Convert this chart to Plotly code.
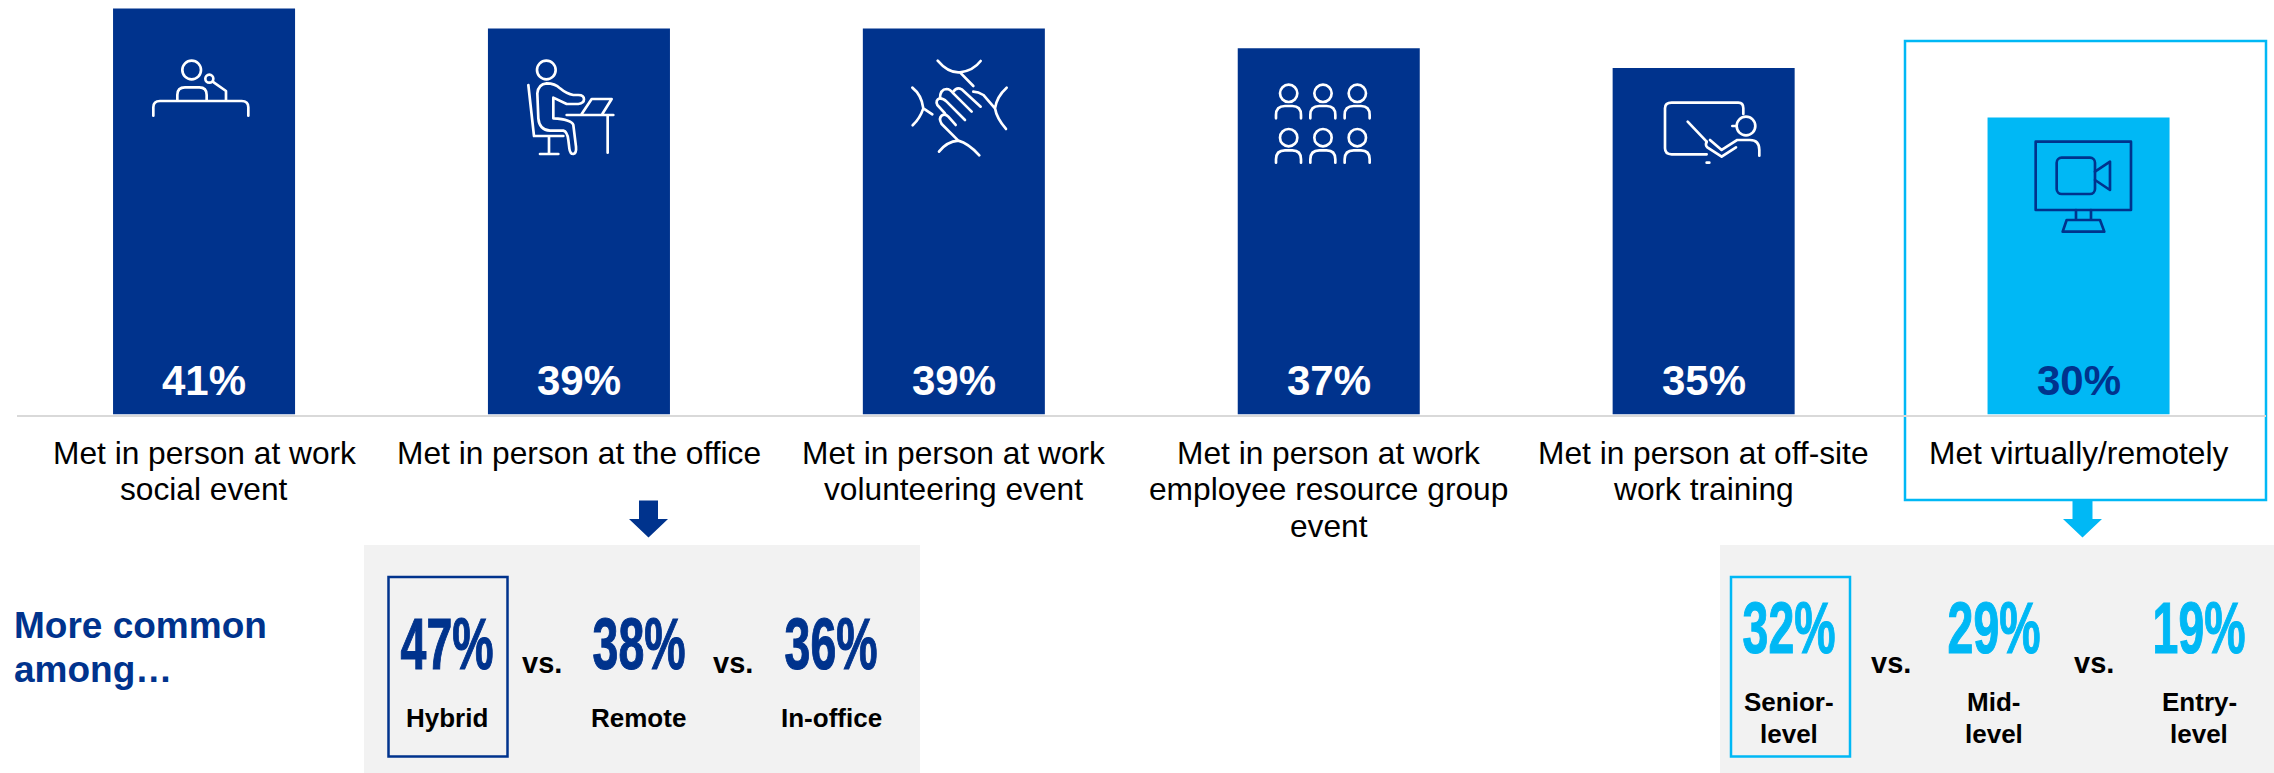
import plotly.graph_objects as go
from urllib.parse import quote

W, H = 2274, 773
NAVY = "#00338D"
SKY = "#00B8F5"
PANEL = "#F2F2F2"
FONT = "Liberation Sans, Arial, sans-serif"

# Chart data
categories = [
    "Met in person at work<br>social event",
    "Met in person at the office",
    "Met in person at work<br>volunteering event",
    "Met in person at work<br>employee resource group<br>event",
    "Met in person at off-site<br>work training",
    "Met virtually/remotely",
]
shares = [41, 39, 39, 37, 35, 30]

office_groups = ["Hybrid", "Remote", "In-office"]
office_shares = [47, 38, 36]
virtual_groups = ["Senior-<br>level", "Mid-<br>level", "Entry-<br>level"]
virtual_shares = [32, 29, 19]


def px(x):
    return x / W


def py(y):
    return 1 - y / H


def rect(x0, y0, x1, y1, fill="rgba(0,0,0,0)", line=None, width=0):
    return dict(type="rect", xref="paper", yref="paper", layer="below",
                x0=px(x0), x1=px(x1), y0=py(y0), y1=py(y1),
                fillcolor=fill, line=dict(color=line or fill, width=width))


def arrow(cx, half_stem, half_head, colour):
    pts = [(cx - half_stem, 500.5), (cx + half_stem, 500.5), (cx + half_stem, 519),
           (cx + half_head, 519), (cx, 537.5), (cx - half_head, 519), (cx - half_stem, 519)]
    path = "M" + " L".join(f"{px(a):.5f} {py(b):.5f}" for a, b in pts) + " Z"
    return dict(type="path", xref="paper", yref="paper", layer="below", path=path,
                fillcolor=colour, line=dict(width=0))


def note(x, y, text, size, colour="black", bold=True, family=FONT, align="center", anchor="center"):
    body = f"<b>{text}</b>" if bold else text
    return dict(xref="paper", yref="paper", x=px(x), y=py(y), text=body, showarrow=False,
                xanchor=anchor, yanchor="middle", align=align,
                font=dict(size=size, color=colour, family=family))


def person(cx, cy):
    return (f'<circle cx="{cx}" cy="{cy}" r="26"/>'
            f'<path d="M{cx-38} {cy+75}V{cy+65}Q{cx-38} {cy+38} {cx-11} {cy+38}H{cx+11}'
            f'Q{cx+37} {cy+38} {cx+37} {cy+65}V{cy+75}"/>')


# Pictograms, one group per bar, drawn in units of a third of a pixel
icons = [
    (140, 50, "white",
     '<circle cx="155" cy="60" r="28"/><circle cx="208" cy="86" r="12"/>'
     '<path d="M218 95L258 123V150"/>'
     '<path d="M112 150V135Q112 112 135 112H178Q200 112 200 135V150"/>'
     '<path d="M40 197V172Q40 153 60 153H305Q325 153 325 172V197"/>'),
    (510, 50, "white",
     '<circle cx="109" cy="60" r="28"/>'
     '<path d="M55 105L72 258H160M117 258V312M90 312H145"/>'
     '<path d="M130 205V143L170 162H205Q222 160 222 148Q222 135 205 135H190Q170 132 150 115'
     'Q135 100 110 100Q85 102 82 130L85 205Q88 240 120 242H160Q172 245 175 270L178 295'
     'Q180 312 190 312Q200 310 198 290L190 225Q185 208 130 205"/>'
     '<path d="M170 195H310M293 195V308M215 192L245 147H305L277 192"/>'),
    (890, 50, "white",
     '<path d="M143 32Q175 70 210 67Q250 62 272 33M210 67L250 108"/>'
     '<path d="M67 113Q95 135 100 175L127 193M100 175Q90 205 68 226"/>'
     '<path d="M350 113Q320 140 315 175Q320 205 348 237M250 125Q265 125 280 135L315 175"/>'
     '<path d="M147 305Q170 275 205 272Q235 280 268 316M205 272L155 222Q145 205 155 197'
     'Q165 190 175 200L197 225"/>'
     '<path d="M165 190L142 165Q135 150 150 145Q160 145 170 155L225 210"/>'
     '<path d="M150 145Q150 118 170 117Q180 117 190 130L245 185"/>'
     '<path d="M190 125Q200 110 215 118L272 170"/>'),
    (1265, 70, "white",
     "".join(person(cx, cy) for cy in (70, 203) for cx in (71, 174, 277))),
    (1650, 90, "white",
     '<path d="M170 193H65Q45 193 45 175V55Q45 38 65 38H265Q280 38 280 55V72"/>'
     '<path d="M113 95L170 155"/><circle cx="288" cy="108" r="28"/><path d="M247 108H260"/>'
     '<path d="M170 155Q165 165 172 172L215 200L258 172M180 150L215 180L262 150H300'
     'Q328 150 328 180V197"/><path d="M170 218H178"/>'),
    (2020, 130, NAVY,
     '<rect x="47" y="35" width="286" height="205"/>'
     '<rect x="110" y="83" width="115" height="109" rx="15"/>'
     '<path d="M225 125L270 95V180L225 150"/>'
     '<path d="M168 240V270M213 240V270M140 270H240L253 305H128Z"/>'),
]
groups = "".join(
    f'<g transform="translate({x} {y}) scale(0.3333)" stroke="{c}">{body}</g>'
    for x, y, c, body in icons
)
svg = (f'<svg xmlns="http://www.w3.org/2000/svg" width="{W}" height="{H}" viewBox="0 0 {W} {H}" '
       f'fill="none" stroke-width="8" stroke-linecap="round" stroke-linejoin="round">{groups}</svg>')

BASE_Y = 414.5
PX_PER_POINT = 9.9
bar_colours = [NAVY] * 5 + [SKY]
label_colours = ["white"] * 5 + [NAVY]

fig = go.Figure(go.Bar(
    x=categories, y=shares, marker=dict(color=bar_colours, line=dict(width=0)),
    hoverinfo="skip",
))

annotations = [
    dict(xref="x", yref="paper", x=c, y=py(380), text=f"<b>{v}%</b>", showarrow=False,
         xanchor="center", yanchor="middle", font=dict(size=42, color=col, family=FONT))
    for c, v, col in zip(categories, shares, label_colours)
]

# Category captions are set line by line for their tighter leading
for c in categories:
    for i, line in enumerate(c.split("<br>")):
        annotations.append(dict(xref="x", yref="paper", x=c, y=py(452.5 + 36.5 * i), text=line,
                                showarrow=False, xanchor="center", yanchor="middle",
                                font=dict(size=31.7, color="black", family=FONT)))

annotations += [
    note(12, 625, "More common", 37, NAVY, anchor="left"),
    note(12, 669, "among…", 37, NAVY, anchor="left"),
]

for x, v, g in zip((447, 638.5, 831), office_shares, office_groups):
    annotations.append(note(x, 644, f"{v}%", 72, NAVY))
    annotations.append(note(x, 718, g, 26))
for x in (542, 733):
    annotations.append(note(x, 663, "vs.", 29))

for x, v, g in zip((1789, 1993.5, 2199), virtual_shares, virtual_groups):
    annotations.append(note(x, 628, f"{v}%", 72, SKY))
    for i, line in enumerate(g.split("<br>")):
        annotations.append(note(x, 702 + 31.5 * i, line, 26))
for x in (1891, 2094):
    annotations.append(note(x, 663, "vs.", 29))

shapes = [
    rect(364, 545, 920, 773, PANEL),
    rect(1720, 545, 2274, 773, PANEL),
    rect(388.5, 577, 507.5, 756.5, line=NAVY, width=2.5),
    rect(1731, 577, 1850, 756.5, line=SKY, width=2.5),
    rect(1905, 41, 2266, 500, line=SKY, width=2.5),
    arrow(648.5, 9.5, 19.5, NAVY),
    arrow(2082.5, 10, 19.5, SKY),
]

fig.update_layout(
    width=W, height=H, margin=dict(l=0, r=0, t=0, b=0),
    paper_bgcolor="white", plot_bgcolor="rgba(0,0,0,0)",
    showlegend=False, bargap=0.5145,
    font=dict(family=FONT, color="black"),
    annotations=annotations, shapes=shapes,
    images=[dict(source="data:image/svg+xml;utf8," + quote(svg), xref="paper", yref="paper",
                 x=0, y=1, sizex=1, sizey=1, sizing="stretch", layer="above",
                 xanchor="left", yanchor="top")],
    xaxis=dict(domain=[16.6 / W, 2266 / W], type="category", showgrid=False, zeroline=False,
               showline=True, linecolor="#D9D9D9", linewidth=2,
               ticks="", showticklabels=False, automargin=False, fixedrange=True),
    yaxis=dict(domain=[py(BASE_Y), 1], range=[0, BASE_Y / PX_PER_POINT], visible=False,
               automargin=False, fixedrange=True),
)

# Squeeze the large percentages into a heavier condensed setting around their own centres
condense = """
document.querySelectorAll('text.annotation-text').forEach(function (t) {
  if (!/^\\d+%$/.test(t.textContent) || parseFloat(t.style.fontSize) < 60) return;
  var b = t.getBBox(), c = b.x + b.width / 2;
  t.setAttribute('transform', 'translate(' + c + ' 0) scale(0.645 1) translate(' + (-c) + ' 0)');
  t.style.stroke = t.style.fill;
  t.style.strokeWidth = '1.2px';
});
"""
fig.write_html("out.html", post_script=condense, config=dict(displayModeBar=False))
